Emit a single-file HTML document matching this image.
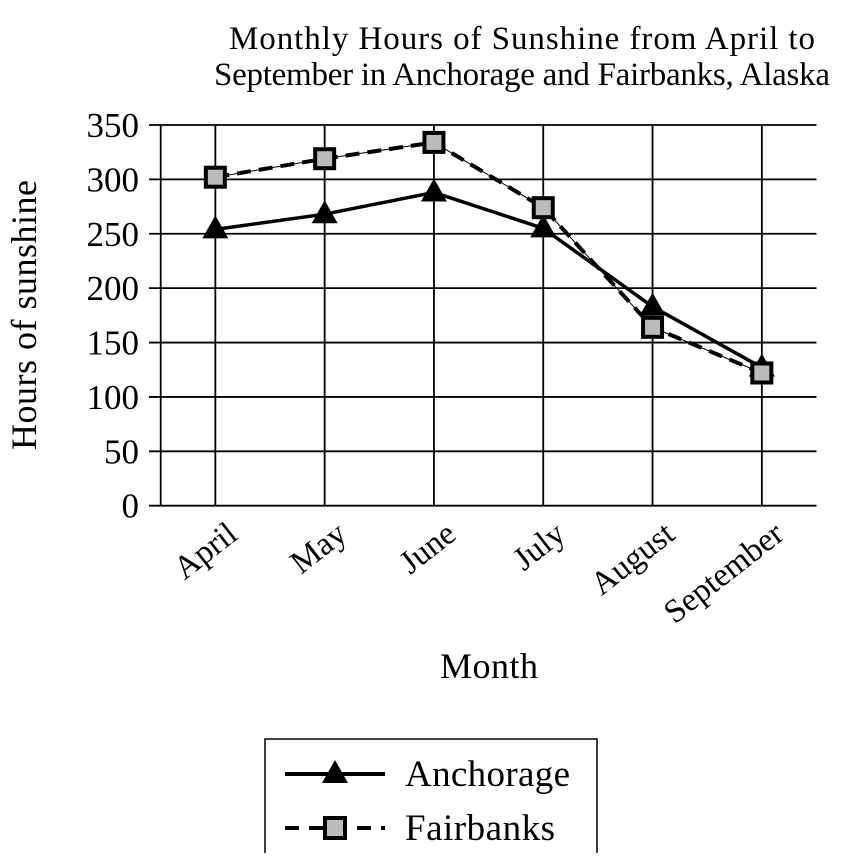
<!DOCTYPE html>
<html><head><meta charset="utf-8"><style>
body{margin:0;background:#fff;}
svg text{font-family:"Liberation Serif",serif;fill:#000;}
</style></head><body>
<svg id="chart" width="848" height="853">
<text x="522" y="49" font-size="33" text-anchor="middle" textLength="586">Monthly Hours of Sunshine from April to</text>
<text x="522" y="85" font-size="33" text-anchor="middle" textLength="616">September in Anchorage and Fairbanks, Alaska</text>
<text transform="translate(36,315) rotate(-90)" font-size="36" text-anchor="middle" textLength="270">Hours of sunshine</text>
<text x="489" y="678" font-size="36" text-anchor="middle" textLength="98">Month</text>
<g id="grid"></g><g id="series"></g>
<g>
<rect x="265" y="739" width="332" height="120" fill="#fff" stroke="#000" stroke-width="1.5"/>
<g>
<line x1="285" y1="774" x2="385" y2="774" stroke="#000" stroke-width="4"/>
<polygon points="335,760 348,783 322,783" fill="#000"/>
<text x="405" y="786" font-size="37" textLength="165">Anchorage</text></g>
<g>
<line x1="285" y1="828" x2="385" y2="828" stroke="#000" stroke-width="4" stroke-dasharray="14,10"/>
<rect x="325" y="818" width="20" height="20" fill="#bbb" stroke="#000" stroke-width="4"/>
<text x="405" y="840" font-size="37" textLength="150">Fairbanks</text></g>
</g>
</svg>
<script>
const months=["April","May","June","July","August","September"];
const anchorage=[254,268,288,255,183,127];
const fairbanks=[302,319,334,274,164,122];
const yTicks=[0,50,100,150,200,250,300,350];
const NS="http://www.w3.org/2000/svg";
const L=160.7,R=816.5,T=125,B=505.7,yMax=350;
const bw=(R-L)/months.length;
const x=i=>L+bw*(i+0.5);
const y=v=>B-(v/yMax)*(B-T);
function mk(tag,attrs,parent){const e=document.createElementNS(NS,tag);for(const k in attrs)e.setAttribute(k,attrs[k]);parent.appendChild(e);return e;}
const grid=document.getElementById('grid'),ser=document.getElementById('series');
yTicks.forEach(v=>{
 const l=mk('line',{x1:149,x2:R,y1:y(v),y2:y(v),stroke:'#000','stroke-width':1.8},grid);
 
 
 const t=mk('text',{x:139,y:y(v)+12,'font-size':35,'text-anchor':'end'},grid);
 t.textContent=v;
 
 
});
const ax=mk('line',{x1:L,x2:L,y1:T,y2:B,stroke:'#000','stroke-width':1.8},grid);


months.forEach((m,i)=>{
 const l=mk('line',{x1:x(i),x2:x(i),y1:T,y2:B,stroke:'#000','stroke-width':1.8},grid);
 
 
 const t=mk('text',{x:0,y:0,'font-size':33,'text-anchor':'end',transform:`translate(${x(i)+24},${B+32}) rotate(-38)`},grid);
 t.textContent=m;
 
 
});
const pa=anchorage.map((v,i)=>x(i)+','+y(v)).join(' ');
const pf=fairbanks.map((v,i)=>x(i)+','+y(v)).join(' ');
const la=mk('polyline',{points:pa,fill:'none',stroke:'#000','stroke-width':3.5},ser);


const lf0=mk('polyline',{points:pf,fill:'none',stroke:'#000','stroke-width':1},ser);


const lf=mk('polyline',{points:pf,fill:'none',stroke:'#000','stroke-width':4,'stroke-dasharray':'14,8'},ser);


anchorage.forEach((v,i)=>{
 const cx=x(i),cy=y(v);
 const p=mk('polygon',{points:`${cx},${cy-14} ${cx+13},${cy+9} ${cx-13},${cy+9}`,fill:'#000'},ser);
 
 
});
fairbanks.forEach((v,i)=>{
 const r=mk('rect',{x:x(i)-9.5,y:y(v)-9.5,width:19,height:19,fill:'#bbb',stroke:'#000','stroke-width':4},ser);
 
 
});
</script>
</body></html>
